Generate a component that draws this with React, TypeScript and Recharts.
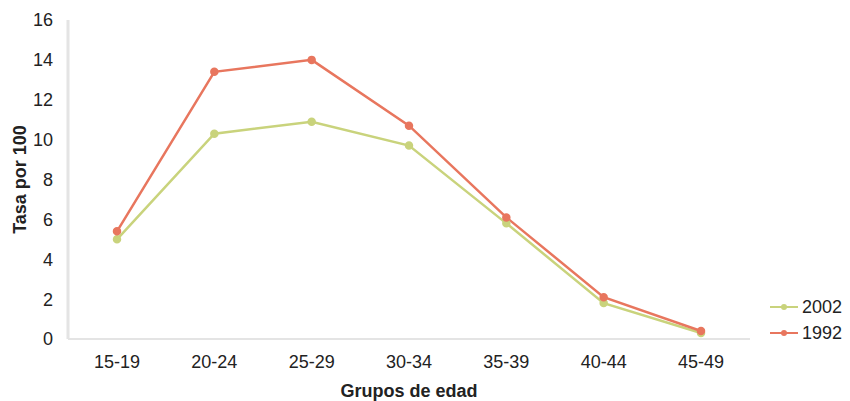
import React from 'react';
import { LineChart, Line, XAxis, YAxis } from 'recharts';

const ageGroups = ['15-19', '20-24', '25-29', '30-34', '35-39', '40-44', '45-49'];
const rate2002 = [5.0, 10.3, 10.9, 9.7, 5.8, 1.8, 0.3];
const rate1992 = [5.4, 13.4, 14.0, 10.7, 6.1, 2.1, 0.4];
const yTicks = [0, 2, 4, 6, 8, 10, 12, 14, 16];

const data = ageGroups.map((g, i) => ({ group: g, y2002: rate2002[i], y1992: rate1992[i] }));

const GREEN = '#c9d37c';
const RED = '#e8765e';
const FONT = 'Arial, "Liberation Sans", sans-serif';

const legendItems = [
  { label: '2002', color: GREEN },
  { label: '1992', color: RED },
];

const LegendBox = () => (
  <div style={{ position: 'absolute', left: 770, top: 294, fontFamily: FONT, fontSize: 18, color: '#222' }}>
    {legendItems.map((it) => (
      <div key={it.label} style={{ display: 'flex', alignItems: 'center', height: 26 }}>
        <svg width={28} height={10} style={{ marginRight: 4 }}>
          <line x1={0} y1={5} x2={28} y2={5} stroke={it.color} strokeWidth={2} />
          <circle cx={14} cy={5} r={3} fill={it.color} />
        </svg>
        {it.label}
      </div>
    ))}
  </div>
);

export default function App() {
  return (
    <div style={{ position: 'absolute', left: 0, top: 0, width: 850, height: 401, background: '#fff' }}>
      <LineChart width={850} height={401} data={data} margin={{ top: 20, right: 100, left: 0, bottom: 0 }}>
        <XAxis
          dataKey="group"
          tick={{ fontSize: 18, fill: '#222', fontFamily: FONT }}
          tickLine={false}
          tickMargin={10}
          padding={{ left: 49, right: 49 }}
          axisLine={{ stroke: '#e4e4e4', strokeWidth: 2 }}
          height={62}
          label={{
            value: 'Grupos de edad',
            position: 'insideBottom',
            offset: 4,
            style: { fontSize: 18, fontWeight: 'bold', fill: '#222', fontFamily: FONT },
          }}
        />
        <YAxis
          domain={[0, 16]}
          ticks={yTicks}
          width={68}
          tickLine={false}
          axisLine={{ stroke: '#e4e4e4', strokeWidth: 3 }}
          tick={{ fontSize: 18, fill: '#222', fontFamily: FONT }}
          tickMargin={9}
          label={{
            value: 'Tasa por 100',
            angle: -90,
            position: 'insideLeft',
            offset: 20,
            style: { textAnchor: 'middle', fontSize: 18, fontWeight: 'bold', fill: '#222', fontFamily: FONT },
          }}
        />
        <Line dataKey="y2002" name="2002" stroke={GREEN} strokeWidth={2.5}
          dot={{ r: 3, fill: GREEN, stroke: GREEN }} isAnimationActive={false} />
        <Line dataKey="y1992" name="1992" stroke={RED} strokeWidth={2.5}
          dot={{ r: 3, fill: RED, stroke: RED }} isAnimationActive={false} />
      </LineChart>
      <LegendBox />
    </div>
  );
}
